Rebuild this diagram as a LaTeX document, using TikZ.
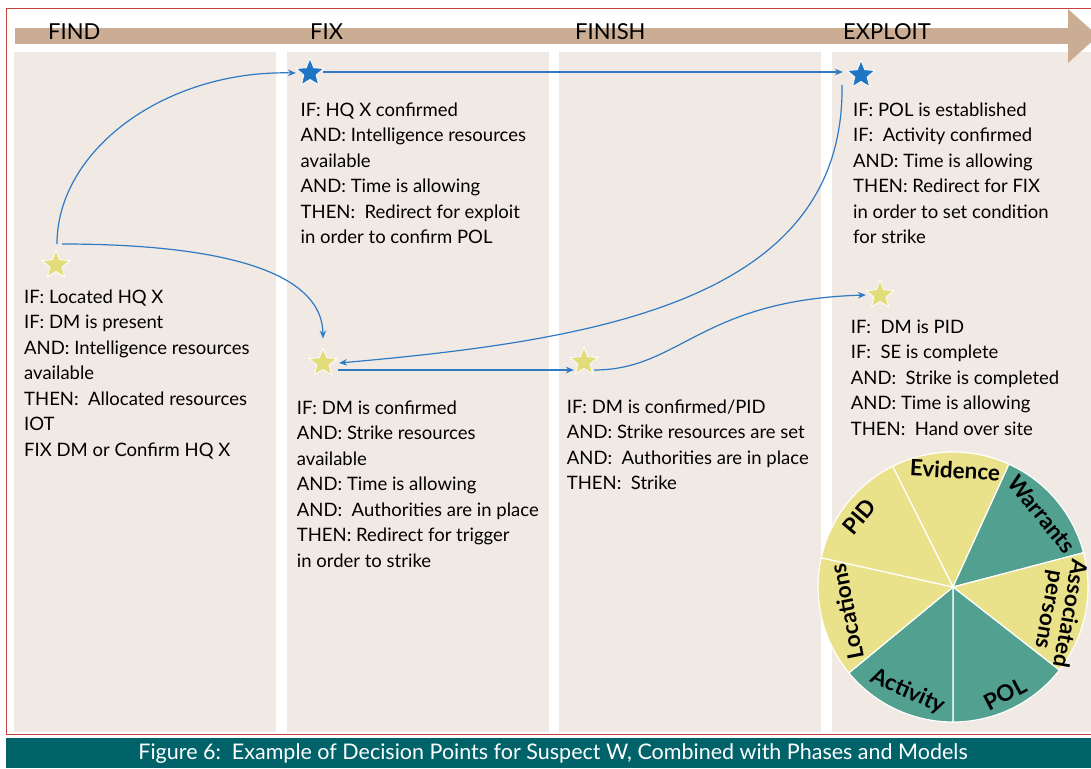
\documentclass[tikz,border=0pt]{standalone}
\usepackage{fontspec}
\setmainfont{Lato}
\usetikzlibrary{shapes.geometric,arrows.meta}

\definecolor{colbg}{HTML}{F1E9E4}
\definecolor{bandtan}{HTML}{CBAD94}
\definecolor{framered}{HTML}{C8423F}
\definecolor{capteal}{HTML}{00636A}
\definecolor{staryellow}{HTML}{E2DC7A}
\definecolor{starblue}{HTML}{1F75C4}
\definecolor{linkblue}{HTML}{2E7AC3}
\definecolor{pieyellow}{HTML}{EAE28A}
\definecolor{pieteal}{HTML}{52A08F}

\tikzset{
  column/.style={fill=colbg},
  header/.style={anchor=base west, inner sep=0pt, font=\fontsize{22}{22}\selectfont},
  rules/.style={anchor=north west, inner sep=0pt, align=left,
                font=\fontsize{18.5}{25.5}\selectfont},
  starbase/.style={star, star points=5, star point ratio=2.25, minimum size=29pt,
                   inner sep=0pt, draw=white, line width=0.8pt},
  ystar/.style={starbase, fill=staryellow},
  bstar/.style={starbase, fill=starblue},
  link/.style={draw=linkblue, line width=1.2pt, -{Stealth[length=8pt,width=6.5pt]}},
  sector/.style={draw=white, line width=1.2pt},
  slabel/.style={inner sep=0pt, align=center, font=\bfseries\fontsize{22.5}{21}\selectfont}
}

\begin{document}
\begin{tikzpicture}[x=1pt,y=-1pt]
\useasboundingbox (0,0) rectangle (1091,768);
\fill[white] (0,0) rectangle (1091,768);

% outer frame
\draw[framered, line width=0.9pt] (6,8) rectangle (1100,734);

% phase columns
\fill[column] (14,52) rectangle (276,732);
\fill[column] (287,52) rectangle (549,732);
\fill[column] (559,52) rectangle (821,732);
\fill[column] (832,52) rectangle (1100,732);

% phase arrow
\fill[bandtan] (15,28) rectangle (1069,44);
\fill[bandtan] (1068,9) -- (1098,36) -- (1068,63) -- cycle;

\node[header] (hfind) at (48,40) {FIND};
\node[header] (hfix) at (310,40) {FIX};
\node[header] (hfinish) at (575,40) {FINISH};
\node[header] (hexploit) at (843,40) {EXPLOIT};

% decision points
\node[ystar] (s1) at (56,265) {};
\node[bstar] (s2) at (310,73) {};
\node[bstar] (s3) at (861,75) {};
\node[ystar] (s4) at (323,363) {};
\node[ystar] (s5) at (584,362) {};
\node[ystar] (s6) at (880,295) {};

\coordinate (s1up) at (57,244);
\coordinate (s1right) at (62,244);
\coordinate (s3down) at (842,85);

% rule texts
\node[rules] (tfind) at (24,285.1) {\strut IF: Located HQ X\\IF: DM is present\\AND: Intelligence resources\\available\\THEN:\ \ Allocated resources\\IOT\\FIX DM or Confirm HQ X};
\node[rules] (tfixa) at (300.5,98.1) {\strut IF: HQ X confirmed\\AND: Intelligence resources\\available\\AND: Time is allowing\\THEN:\ \ Redirect for exploit\\in order to confirm POL};
\node[rules] (tfixb) at (296.7,396.1) {\strut IF: DM is confirmed\\AND: Strike resources\\available\\AND: Time is allowing\\AND:\ \ Authorities are in place\\THEN: Redirect for trigger\\in order to strike};
\node[rules] (tfinish) at (566.7,395.1) {\strut IF: DM is confirmed/PID\\AND: Strike resources are set\\AND:\ \ Authorities are in place\\THEN:\ \ Strike};
\node[rules] (texpa) at (853,98.1) {\strut IF: POL is established\\IF:\ \ Activity confirmed\\AND: Time is allowing\\THEN: Redirect for FIX\\in order to set condition\\for strike};
\node[rules] (texpb) at (850.7,315.1) {\strut IF:\ \ DM is PID\\IF:\ \ SE is complete\\AND:\ \ Strike is completed\\AND: Time is allowing\\THEN:\ \ Hand over site};

% connectors
\draw[link] (s1up) .. controls (57,150) and (165,70) .. ([xshift=-5pt]s2.west);
\draw[link] (s1right) .. controls (190,244) and (322,262) .. ([yshift=9pt]s4.north);
\draw[link] ([xshift=4pt,yshift=1pt]s2.east) -- ([xshift=-9pt,yshift=3pt]s3.west);
\draw[link] (s3down) .. controls (845,300) and (600,340) .. ([xshift=7pt]s4.east);
\draw[link] ([xshift=6pt,yshift=-7pt]s4.east) -- ([xshift=-1pt,yshift=-8pt]s5.west);
\draw[link] ([xshift=1pt,yshift=-8pt]s5.east) .. controls (680,370) and (700,300) .. ([xshift=-5pt]s6.west);

% model wheel
\begin{scope}[shift={(953,587)}, yscale=-1]
  \fill[pieyellow, sector] (0,0) -- (65.5:135) arc[start angle=65.5, end angle=116.6, radius=135] -- cycle;
  \fill[pieteal, sector] (0,0) -- (14.7:135) arc[start angle=14.7, end angle=65.5, radius=135] -- cycle;
  \fill[pieyellow, sector] (0,0) -- (-38:135) arc[start angle=-38, end angle=14.7, radius=135] -- cycle;
  \fill[pieteal, sector] (0,0) -- (-90:135) arc[start angle=-90, end angle=-38, radius=135] -- cycle;
  \fill[pieteal, sector] (0,0) -- (-140.5:135) arc[start angle=-140.5, end angle=-90, radius=135] -- cycle;
  \fill[pieyellow, sector] (0,0) -- (167.5:135) arc[start angle=167.5, end angle=219.5, radius=135] -- cycle;
  \fill[pieyellow, sector] (0,0) -- (116.6:135) arc[start angle=116.6, end angle=167.5, radius=135] -- cycle;
  \node[slabel, rotate=-3] (pev) at (89:117) {Evidence};
  \node[slabel, rotate=-51] (pwa) at (39.4:115) {Warrants};
  \node[slabel, rotate=-100] (pas) at (-13:109) {Associated\\persons};
  \node[slabel, rotate=28] (ppol) at (-64:119) {POL};
  \node[slabel, rotate=-24] (pact) at (-113.5:114) {Activity};
  \node[slabel, rotate=101] (ploc) at (193:109) {Locations};
  \node[slabel, rotate=50] (ppid) at (143:117) {PID};
\end{scope}

% caption bar
\fill[capteal] (6,738) rectangle (1100,768);
\node[text=white, inner sep=0pt, font=\fontsize{21.5}{21.5}\selectfont] (cap) at (553,753.5)
  {Figure 6:\ \ Example of Decision Points for Suspect W, Combined with Phases and Models};
\end{tikzpicture}
\end{document}
